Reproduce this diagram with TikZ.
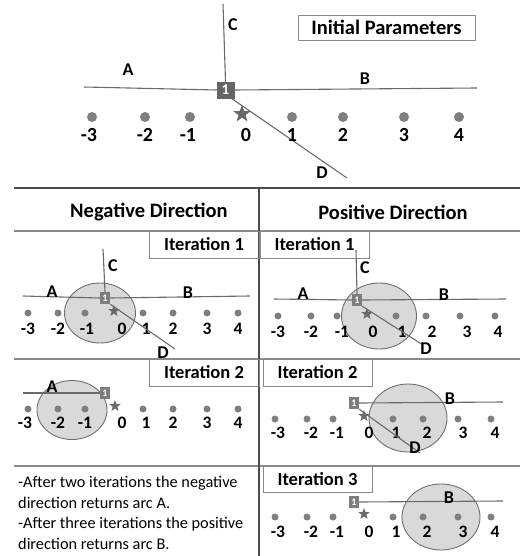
\documentclass[tikz,border=0pt]{standalone}
\usepackage{fontspec}
\setmainfont{Carlito}
\usetikzlibrary{shapes.geometric}
\definecolor{zonefill}{HTML}{D9D9D9}
\definecolor{zoneline}{HTML}{6F6F6F}
\definecolor{arcgray}{HTML}{6A6A6A}
\definecolor{dotgray}{HTML}{7F7F7F}
\definecolor{framegray}{HTML}{8A8A8A}
\definecolor{markgray}{HTML}{666666}
\tikzset{
  dotbig/.style={circle, fill=dotgray, inner sep=0pt, minimum size=10pt},
  dotsmall/.style={circle, fill=dotgray, inner sep=0pt, minimum size=7pt},
  numbig/.style={font=\bfseries\fontsize{20}{20}\selectfont, inner sep=0pt},
  numsmall/.style={font=\bfseries\fontsize{17.5}{17.5}\selectfont, inner sep=0pt},
  arclbl/.style={font=\bfseries\fontsize{18}{18}\selectfont, inner sep=0pt},
  arcline/.style={draw=arcgray, line width=1.1pt},
  sep/.style={draw=framegray, line width=1.1pt},
  divider/.style={draw=black!70, line width=1.2pt},
  itbox/.style={draw=framegray, line width=0.9pt, rectangle, inner sep=0pt,
     font=\bfseries\fontsize{18.5}{18.5}\selectfont},
  header/.style={font=\bfseries\fontsize{20.5}{20.5}\selectfont, inner sep=0pt},
  starbig/.style={star, star points=5, star point ratio=2.4, fill=arcgray, inner sep=0pt, minimum size=18pt},
  starsmall/.style={star, star points=5, star point ratio=2.4, fill=arcgray, inner sep=0pt, minimum size=12pt},
  zone/.style={ellipse, draw=zoneline, fill=zonefill, line width=0.9pt, inner sep=0pt},
  markbig/.style={rectangle, fill=markgray, draw=black!60, line width=0.5pt, minimum width=17pt, minimum height=16pt, inner sep=0pt,
     text=white, font=\bfseries\fontsize{15}{15}\selectfont},
  marksmall/.style={rectangle, fill=markgray!85, minimum width=10pt, minimum height=12pt, inner sep=0pt,
     text=white, font=\bfseries\fontsize{10}{10}\selectfont},
  note/.style={font=\fontsize{16.3}{20.7}\selectfont, align=left, inner sep=0pt, anchor=north west},
}
\begin{document}
\begin{tikzpicture}[x=1pt,y=-1pt]
\useasboundingbox (0,0) rectangle (520,556);
\fill[white] (0,0) rectangle (520,556);

% ---------- Initial parameters ----------
\node[itbox, minimum width=177pt, minimum height=25pt, font=\bfseries\fontsize{20.5}{20.5}\selectfont] (init) at (386.5,27.5) {Initial Parameters};
\node[markbig] (m0) at (225.5,90) {1};
\coordinate (c0) at (223,4);
\coordinate (a0) at (84,87);
\coordinate (b0) at (477,88);
\coordinate (d0) at (347,178);
\draw[arcline] (c0) -- (m0.north);
\draw[arcline] (a0) -- (m0.west);
\draw[arcline] (m0.east) -- (b0);
\draw[arcline] ([xshift=-3pt]m0.south east) -- (d0);
\node[arclbl] (lc0) at (233,25) {C};
\node[arclbl] (la0) at (128,70) {A};
\node[arclbl] (lb0) at (365,79) {B};
\node[arclbl] (ld0) at (322,173) {D};
\foreach \x [count=\i] in {92,145,190,292,343,404,459}
  \node[dotbig] (t\i) at (\x,117) {};
\node[starbig] (ts) at (242,114) {};
\foreach \t/\x [count=\i] in {-3/89,-2/145,-1/188,0/246,1/292,2/343,3/404,4/459}
  \node[numbig] (tl\i) at (\x,135) {\t};

% ---------- frame lines ----------
\coordinate (s1l) at (14,188);  \coordinate (s1r) at (520,188);
\coordinate (s2l) at (14,231);  \coordinate (s2r) at (520,231);
\coordinate (s3l) at (14,359);  \coordinate (s3r) at (520,359);
\coordinate (s4l) at (14,466);  \coordinate (s4r) at (520,466);
\coordinate (vt) at (259,188);  \coordinate (vb) at (259,556);
\draw[divider] (s1l) -- (s1r);
\draw[sep] (s2l) -- (s2r);
\draw[sep] (s3l) -- (s3r);
\draw[sep] (s4l) -- (s4r);
\draw[divider] (vt) -- (vb);

\node[header] (hneg) at (149,212) {Negative Direction};
\node[header] (hpos) at (393,212) {Positive Direction};

\node[itbox, minimum width=110pt, minimum height=27pt] (li1) at (204,244.5) {Iteration 1};
\node[itbox, minimum width=109pt, minimum height=27pt] (ri1) at (314.5,244.5) {Iteration 1};
\node[itbox, minimum width=110pt, minimum height=27pt] (li2) at (204,372.5) {Iteration 2};
\node[itbox, minimum width=109pt, minimum height=28pt] (ri2) at (317.5,372) {Iteration 2};
\node[itbox, minimum width=109pt, minimum height=26pt] (ri3) at (317.5,479) {Iteration 3};

% ---------- Left panel 1 ----------
\node[zone, minimum width=71pt, minimum height=60pt] (z1) at (100,313) {};
\foreach \x [count=\i] in {28,58,85,143,173,207,238}
  \node[dotsmall] (p\i) at (\x,313) {};
\node[starsmall] (ps) at (114,311) {};
\foreach \t/\x [count=\i] in {-3/28,-2/58,-1/87,0/122,1/146,2/173,3/207,4/238}
  \node[numsmall] (pl\i) at (\x,329) {\t};
\node[marksmall] (m1) at (105,298) {1};
\coordinate (c1) at (103,249);
\coordinate (a1) at (23,296);
\coordinate (b1) at (250,296);
\coordinate (d1) at (175,349);
\draw[arcline] (c1) -- (m1.north);
\draw[arcline] (a1) -- (m1.west);
\draw[arcline] (m1.east) -- (b1);
\draw[arcline] (m1.south east) -- (d1);
\node[arclbl] (lc1) at (113,266) {C};
\node[arclbl] (la1) at (52,292) {A};
\node[arclbl] (lb1) at (188,293) {B};
\node[arclbl] (ld1) at (163,353) {D};

% ---------- Right panel 1 ----------
\node[zone, minimum width=75pt, minimum height=66pt] (z2) at (379,316) {};
\foreach \x [count=\i] in {278,311,337,396,426,460,495}
  \node[dotsmall] (q\i) at (\x,316) {};
\node[starsmall] (qs) at (367,314) {};
\foreach \t/\x [count=\i] in {-3/278,-2/311,-1/342,0/373,1/402,2/432,3/467,4/498}
  \node[numsmall] (ql\i) at (\x,332) {\t};
\node[marksmall] (m2) at (357,300) {1};
\coordinate (c2) at (356,250);
\coordinate (a2) at (274,299);
\coordinate (b2) at (506,299);
\coordinate (d2) at (423,345);
\draw[arcline] (c2) -- (m2.north);
\draw[arcline] (a2) -- (m2.west);
\draw[arcline] (m2.east) -- (b2);
\draw[arcline] (m2.south east) -- (d2);
\node[arclbl] (lc2) at (365,268) {C};
\node[arclbl] (la2) at (303,294) {A};
\node[arclbl] (lb2) at (444,295) {B};
\node[arclbl] (ld2) at (426,349) {D};

% ---------- Left panel 2 ----------
\node[zone, minimum width=70pt, minimum height=59pt] (z3) at (72,410) {};
\foreach \x [count=\i] in {28,58,85,143,173,207,238}
  \node[dotsmall] (r\i) at (\x,409) {};
\node[starsmall] (rs) at (115,406) {};
\foreach \t/\x [count=\i] in {-3/25,-2/58,-1/85,0/122,1/146,2/173,3/207,4/238}
  \node[numsmall] (rl\i) at (\x,423) {\t};
\node[marksmall] (m3) at (105,393) {1};
\coordinate (a3) at (23,393);
\draw[arcline] (a3) -- (m3.west);
\node[arclbl] (la3) at (52,387) {A};

% ---------- Right panel 2 ----------
\node[zone, minimum width=78pt, minimum height=68pt] (z4) at (408,418) {};
\foreach \x [count=\i] in {275,307,333,393,423,458,491}
  \node[dotsmall] (u\i) at (\x,419) {};
\node[starsmall] (us) at (364,416) {};
\foreach \t/\x [count=\i] in {-3/278,-2/311,-1/337,0/369,1/396,2/427,3/463,4/495}
  \node[numsmall] (ul\i) at (\x,433) {\t};
\node[marksmall] (m4) at (354,403) {1};
\coordinate (b4) at (503,402);
\coordinate (d4) at (420,453);
\draw[arcline] (m4.east) -- (b4);
\draw[arcline] (m4.south east) -- (d4);
\node[arclbl] (lb4) at (450,399) {B};
\node[arclbl] (ld4) at (415,448) {D};

% ---------- Right panel 3 ----------
\node[zone, minimum width=78pt, minimum height=66pt] (z5) at (441,517) {};
\foreach \x [count=\i] in {275,307,333,393,423,458,491}
  \node[dotsmall] (v\i) at (\x,517) {};
\node[starsmall] (vs) at (364,514) {};
\foreach \t/\x [count=\i] in {-3/278,-2/311,-1/337,0/369,1/396,2/427,3/463,4/495}
  \node[numsmall] (vl\i) at (\x,532) {\t};
\node[marksmall] (m5) at (354,502) {1};
\coordinate (b5) at (503,501);
\draw[arcline] (m5.east) -- (b5);
\node[arclbl] (lb5) at (449,498) {B};

% ---------- note ----------
\node[note] (txt) at (18,476) {-After two iterations the negative\\direction returns arc A.\\-After three iterations the positive\\direction returns arc B.};
\end{tikzpicture}
\end{document}
